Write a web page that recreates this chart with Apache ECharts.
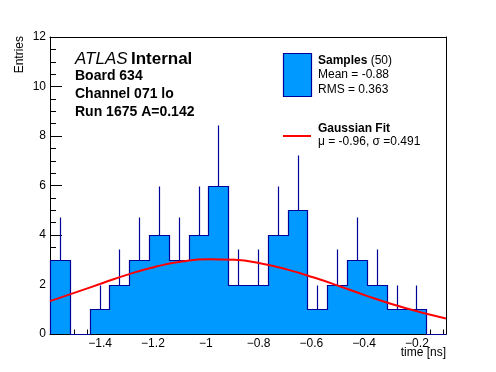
<!DOCTYPE html>
<html>
<head>
<meta charset="utf-8">
<script src="https://cdn.jsdelivr.net/npm/echarts@6/dist/echarts.min.js"></script>
<style>
html,body{margin:0;padding:0;background:#fff;}
#c{width:496px;height:372px;}
</style>
</head>
<body>
<div id="c"></div>
<script>
// ---- data ----
const binEdges = [-1.59, -1.515, -1.44, -1.365, -1.29, -1.215, -1.14, -1.065, -0.99, -0.915,
                  -0.84, -0.765, -0.69, -0.615, -0.54, -0.465, -0.39, -0.315, -0.24, -0.165, -0.09];
const counts = [3, 0, 1, 2, 3, 4, 3, 4, 6, 2, 2, 4, 5, 1, 2, 3, 2, 1, 1, 0];
const fitX = [-1.59, -1.49, -1.39, -1.29, -1.19, -1.09, -0.99, -0.89, -0.79, -0.69, -0.59, -0.49, -0.39, -0.29, -0.19, -0.09];
const fitY = [1.33, 1.69, 2.06, 2.42, 2.72, 2.93, 3.02, 3.00, 2.85, 2.60, 2.28, 1.92, 1.54, 1.19, 0.89, 0.63];
const xMajorTicks = [-1.4, -1.2, -1.0, -0.8, -0.6, -0.4, -0.2];
const xMinorTicks = [-1.55, -1.5, -1.45, -1.4, -1.35, -1.3, -1.25, -1.2, -1.15, -1.1, -1.05, -1.0, -0.95, -0.9,
                     -0.85, -0.8, -0.75, -0.7, -0.65, -0.6, -0.55, -0.5, -0.45, -0.4, -0.35, -0.3, -0.25, -0.2, -0.15, -0.1];
const yTicks = [0, 2, 4, 6, 8, 10, 12];

const FILL = '#0099ff';
const LINE = '#000099';
const FONT = '"Liberation Sans", Arial, Helvetica, sans-serif';

const xMin = binEdges[0], xMax = binEdges[binEdges.length - 1];
const fmt = v => { const s = String(Math.round(v * 10) / 10); return s.replace('-', '\u2212'); };

const histData = counts.map((c, i) => [binEdges[i], binEdges[i + 1], c]);
const errData = counts.map((c, i) => [(binEdges[i] + binEdges[i + 1]) / 2, c]).filter(d => d[1] > 0);

const chart = echarts.init(document.getElementById('c'), null, {renderer: 'canvas'});
const noAxis = {show: false};
const crisp = p => [Math.round(p[0]) + 0.5, Math.round(p[1]) + 0.5];
chart.setOption({
  animation: false,
  grid: {left: 50, right: 50, top: 37, bottom: 38, containLabel: false},
  xAxis: [
    {type: 'value', min: xMin, max: xMax, position: 'bottom',
     axisLine: {show: true, onZero: false, lineStyle: {color: '#000', width: 1}},
     axisTick: {show: true, inside: true, length: 9, customValues: xMajorTicks, lineStyle: {color: '#000'}},
     axisLabel: {show: true, customValues: xMajorTicks, formatter: fmt, color: '#000', fontSize: 12, fontFamily: FONT, margin: 4},
     splitLine: noAxis},
    {type: 'value', min: xMin, max: xMax, position: 'bottom',
     axisLine: noAxis,
     axisTick: {show: true, inside: true, length: 4.5, customValues: xMinorTicks, lineStyle: {color: '#000'}},
     axisLabel: noAxis, splitLine: noAxis},
    {type: 'value', min: xMin, max: xMax, position: 'top',
     axisLine: {show: true, onZero: false, lineStyle: {color: '#000', width: 1}},
     axisTick: noAxis, axisLabel: noAxis, splitLine: noAxis}
  ],
  yAxis: [
    {type: 'value', min: 0, max: 12, interval: 2, position: 'left',
     axisLine: {show: true, onZero: false, lineStyle: {color: '#000', width: 1}},
     axisTick: {show: true, inside: true, length: 12, lineStyle: {color: '#000'}},
     minorTick: {show: true, splitNumber: 4, length: 6, lineStyle: {color: '#000'}},
     axisLabel: {show: true, color: '#000', fontSize: 12, fontFamily: FONT, margin: 4, customValues: yTicks},
     splitLine: noAxis, minorSplitLine: noAxis},
    {type: 'value', min: 0, max: 12, position: 'right',
     axisLine: {show: true, onZero: false, lineStyle: {color: '#000', width: 1}},
     axisTick: noAxis, axisLabel: noAxis, splitLine: noAxis}
  ],
  series: [
    {
      type: 'custom', xAxisIndex: 0, yAxisIndex: 0, z: 1,
      data: histData,
      renderItem: (params, api) => {
        const lo = api.value(0), hi = api.value(1), c = api.value(2);
        if (c <= 0) return null;
        const p0 = api.coord([lo, c]);
        const p1 = api.coord([hi, 0]);
        const x0 = Math.round(p0[0]), x1 = Math.round(p1[0]);
        const y0 = Math.round(p0[1]), y1 = Math.round(p1[1]);
        return {type: 'rect', shape: {x: x0, y: y0, width: x1 - x0 + 1, height: y1 - y0},
                style: {fill: FILL, stroke: null}};
      }
    },
    {
      type: 'custom', xAxisIndex: 0, yAxisIndex: 0, z: 3,
      data: errData,
      renderItem: (params, api) => {
        const x = api.value(0), c = api.value(1);
        const a = crisp(api.coord([x, c]));
        const b = crisp(api.coord([x, c + Math.sqrt(c)]));
        return {type: 'line', shape: {x1: a[0], y1: a[1], x2: a[0], y2: b[1]},
                style: {stroke: LINE, lineWidth: 1.2}};
      }
    },
    {
      type: 'custom', xAxisIndex: 0, yAxisIndex: 0, z: 4,
      data: [0],
      renderItem: (params, api) => {
        const pts = [];
        let prev = 0;
        counts.forEach((c, i) => {
          pts.push(crisp(api.coord([binEdges[i], prev])));
          pts.push(crisp(api.coord([binEdges[i], c])));
          pts.push(crisp(api.coord([binEdges[i + 1], c])));
          prev = c;
        });
        pts.push(crisp(api.coord([binEdges[binEdges.length - 1], 0])));
        return {type: 'polyline', shape: {points: pts},
                style: {stroke: LINE, lineWidth: 1.2, fill: null}};
      }
    },
    {
      type: 'line', xAxisIndex: 0, yAxisIndex: 0, z: 5,
      data: fitX.map((x, i) => [x, fitY[i]]),
      smooth: true, showSymbol: false, symbol: 'none',
      lineStyle: {color: '#ff0000', width: 2}
    }
  ],
  graphic: [
    {type: 'text', x: 20, y: 36, rotation: Math.PI / 2,
     style: {text: 'Entries', font: '12px ' + FONT, fill: '#000', textAlign: 'right', textVerticalAlign: 'middle'}},
    {type: 'text', x: 446, y: 353,
     style: {text: 'time [ns]', font: '12px ' + FONT, fill: '#000', textAlign: 'right', textVerticalAlign: 'middle'}},
    {type: 'text', x: 75, y: 59,
     style: {text: '{i|ATLAS} {b|Internal}', textAlign: 'left', textVerticalAlign: 'middle',
             rich: {i: {font: 'italic 17px ' + FONT, fill: '#000'}, b: {font: 'bold 17px ' + FONT, fill: '#000'}}}},
    {type: 'text', x: 75, y: 76,
     style: {text: 'Board 634', font: 'bold 14px ' + FONT, fill: '#000', textAlign: 'left', textVerticalAlign: 'middle'}},
    {type: 'text', x: 75, y: 94,
     style: {text: 'Channel 071 lo', font: 'bold 14px ' + FONT, fill: '#000', textAlign: 'left', textVerticalAlign: 'middle'}},
    {type: 'text', x: 75, y: 112,
     style: {text: 'Run 1675 A=0.142', font: 'bold 14px ' + FONT, fill: '#000', textAlign: 'left', textVerticalAlign: 'middle'}},
    {type: 'rect', shape: {x: 283.5, y: 53.5, width: 28, height: 43},
     style: {fill: FILL, stroke: LINE, lineWidth: 1.2}},
    {type: 'text', x: 318, y: 61,
     style: {text: '{b|Samples} (50)', font: '12px ' + FONT, fill: '#000', textAlign: 'left', textVerticalAlign: 'middle',
             rich: {b: {font: 'bold 12px ' + FONT, fill: '#000'}}}},
    {type: 'text', x: 318, y: 75,
     style: {text: 'Mean = -0.88', font: '12px ' + FONT, fill: '#000', textAlign: 'left', textVerticalAlign: 'middle'}},
    {type: 'text', x: 318, y: 90,
     style: {text: 'RMS = 0.363', font: '12px ' + FONT, fill: '#000', textAlign: 'left', textVerticalAlign: 'middle'}},
    {type: 'line', shape: {x1: 283, y1: 136, x2: 311, y2: 136},
     style: {stroke: '#ff0000', lineWidth: 2}},
    {type: 'text', x: 318, y: 128.5,
     style: {text: 'Gaussian Fit', font: 'bold 12px ' + FONT, fill: '#000', textAlign: 'left', textVerticalAlign: 'middle'}},
    {type: 'text', x: 318, y: 141.5,
     style: {text: '\u03bc = -0.96, \u03c3 =0.491', font: '12px ' + FONT, fill: '#000', textAlign: 'left', textVerticalAlign: 'middle'}}
  ]
});
</script>
</body>
</html>
